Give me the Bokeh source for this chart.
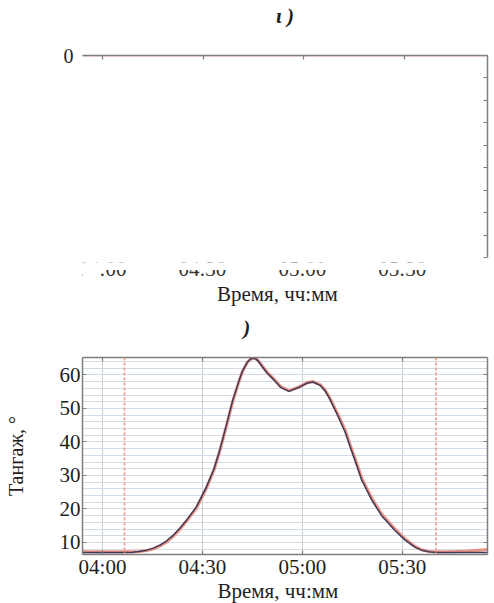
from bokeh.plotting import figure
from bokeh.layouts import column
from bokeh.models import (Range1d, LinearAxis, FixedTicker, Span, Title,
                          CustomLabelingPolicy)
from bokeh.core.properties import value
from bokeh.embed import file_html
from bokeh.resources import INLINE

SERIF = "Liberation Serif"

# ---------------- data ----------------
tick_times = [240, 270, 300, 330]                 # minutes after midnight
tick_labels = ["04:00", "04:30", "05:00", "05:30"]
pitch_ticks = [10, 20, 30, 40, 50, 60]
pitch_minor = [6, 8, 12, 14, 16, 18, 22, 24, 26, 28, 32, 34, 36, 38, 42, 44, 46, 48,
               52, 54, 56, 58, 62, 64]
top_ticks = [-90, -80, -70, -60, -50, -40, -30, -20, -10, 0]
event_times = [246.6, 340.1]

pitch_t = [234, 240, 246, 249, 251, 253.3, 255.3, 257.3, 259.3, 261.3, 263.3, 265.2,
           268.2, 271.2, 273.5, 275.2, 277.2, 279.1, 281.0, 282.1, 283.5, 284.4, 285.2,
           286.0, 286.8, 288.1, 289.5, 291.1, 293.5, 296.0, 299.0, 301.5, 303.2, 305.5,
           306.8, 308.0, 310.4, 312.9, 314.4, 316.0, 317.9, 320.9, 323.9, 327.9, 330.9,
           333.8, 335.8, 338.0, 340.0, 345.0, 350.0, 355.6]
pitch_meas = [7.0, 7.0, 7.0, 7.1, 7.3, 7.7, 8.3, 9.2, 10.5, 12.2, 14.3, 16.6,
              20.6, 26.5, 32.0, 37.5, 45.0, 52.4, 58.3, 61.3, 63.8, 64.7, 65.0,
              64.8, 64.1, 62.3, 60.5, 58.9, 56.3, 55.1, 56.3, 57.6, 57.9, 56.8,
              55.3, 53.3, 48.4, 42.9, 38.5, 34.0, 28.5, 22.6, 17.9, 13.5, 10.7,
              8.6, 7.7, 7.2, 7.0, 7.0, 7.0, 7.0]
pitch_model = [7.2, 7.2, 7.2, 7.2, 7.3, 7.6, 8.1, 9.0, 10.2, 11.9, 14.0, 16.3,
               20.3, 26.2, 31.7, 37.2, 44.7, 52.1, 58.1, 61.2, 63.8, 64.7, 65.0,
               64.9, 64.2, 62.5, 60.7, 59.1, 56.5, 55.3, 56.4, 57.7, 58.0, 57.0,
               55.5, 53.6, 48.8, 43.4, 39.0, 34.5, 29.0, 23.1, 18.3, 13.9, 11.0,
               8.8, 7.8, 7.3, 7.2, 7.2, 7.4, 7.9]

top_t = [234, 240, 270, 300, 330, 354.7]
top_meas = [0, 0, 0, 0, 0, 0]
top_model = [0, 0, 0, 0, 0, 0]

AX = "#7f7f7f"
RED = "#ec7a68"
DARK = "#3b3d5e"
TXT = "#1e1e1e"
W = 494
FS = "21px"


def base(**kw):
    return figure(toolbar_location=None, output_backend="svg", **kw)


def plain_axis(ax):
    ax.axis_line_color = AX
    ax.axis_line_width = 1.5
    ax.major_tick_line_color = AX
    ax.major_tick_line_width = 1.2
    ax.major_tick_in = 4
    ax.major_tick_out = 0
    ax.minor_tick_line_color = None


def no_labels(ax):
    ax.major_label_policy = CustomLabelingPolicy(code="return new Set()")
    ax.major_label_standoff = 0
    ax.major_label_text_font_size = "1px"


def serif_labels(ax, size=FS):
    ax.major_label_text_font = SERIF
    ax.major_label_text_font_size = size
    ax.major_label_text_color = TXT


# ---------------- strip with panel title (page y 0..40) ----------------
t = base(width=W, height=40, x_range=Range1d(0, W), y_range=Range1d(40, 0),
         x_axis_type=None, y_axis_type=None, min_border=0, outline_line_color=None)
t.text(x=[247], y=[15], text=["ι )"], text_align="center", text_baseline="middle",
       text_font=value(SERIF), text_font_size="21px", text_font_style="bold italic",
       text_color=TXT)

# ---------------- top panel (page y 40..262, frame 55..257) ----------------
a = base(width=W, height=222, x_range=Range1d(234.0, 354.7), y_range=Range1d(-90, 0),
         x_axis_location="above", y_axis_location="right",
         min_border_top=15, min_border_bottom=5, min_border_left=82, min_border_right=7,
         outline_line_color=None)
a.grid.visible = False
for ax in a.xaxis:
    ax.ticker = FixedTicker(ticks=tick_times)
    plain_axis(ax)
    no_labels(ax)
for ax in a.yaxis:
    ax.ticker = FixedTicker(ticks=top_ticks)
    plain_axis(ax)
    no_labels(ax)
left_a = LinearAxis(ticker=FixedTicker(ticks=[0]), axis_line_color=None,
                    major_tick_line_color=None, minor_tick_line_color=None,
                    major_label_standoff=3)
serif_labels(left_a, "20px")
a.add_layout(left_a, "left")
a.line(top_t, top_model, line_color=RED, line_width=2, line_alpha=0.45)
a.line(top_t, top_meas, line_color=DARK, line_width=1, line_alpha=0.6)

# ---------------- strip (page y 262..340): cut tick labels, x label, panel title ----
b = base(width=W, height=78, x_range=Range1d(234.0, 355.6), y_range=Range1d(340, 262),
         x_axis_type=None, y_axis_type=None, min_border_top=0, min_border_bottom=0,
         min_border_left=82, min_border_right=4, outline_line_color=None)
b.text(x=tick_times, y=[268] * len(tick_times), text=tick_labels, text_align="center",
       text_baseline="middle", text_font=value(SERIF), text_font_size=FS,
       text_color="#333333")
# the scan has erased the upper half of these labels and the left edge of the first one
b.quad(left=[234.0], right=[355.6], top=[262], bottom=[269.5], fill_color="white",
       line_color=None)
b.quad(left=[234.0], right=[239.4], top=[262], bottom=[282], fill_color="white",
       line_color=None)
b.text(x=[292.5], y=[293], text=["Время, чч:мм"], text_align="center",
       text_baseline="middle", text_font=value(SERIF), text_font_size=FS,
       text_color=TXT)
b.text(x=[283.3], y=[327], text=[")"], text_align="center", text_baseline="middle",
       text_font=value(SERIF), text_font_size="21px", text_font_style="bold italic",
       text_color=TXT)

# ---------------- bottom panel (page y 340..603, frame 357..554) ----------------
c = base(width=W, height=263, x_range=Range1d(234.0, 355.6), y_range=Range1d(6.4, 65.2),
         min_border_top=17, min_border_bottom=49, min_border_left=82, min_border_right=4,
         outline_line_color=None)
c.add_layout(LinearAxis(), "right")
c.add_layout(LinearAxis(), "above")

for ax in c.xaxis:
    ax.ticker = FixedTicker(ticks=tick_times)
    plain_axis(ax)
for ax in c.yaxis:
    ax.ticker = FixedTicker(ticks=pitch_ticks)
    plain_axis(ax)

bottom = c.below[0]
serif_labels(bottom)
bottom.major_label_standoff = 0
bottom.major_label_overrides = {tt: lab for tt, lab in zip(tick_times, tick_labels)}
no_labels(c.above[0])
no_labels(c.right[0])

left = c.left[0]
serif_labels(left)
left.major_label_standoff = 2
left.axis_label = "Тангаж, °"
left.axis_label_text_font = SERIF
left.axis_label_text_font_size = "20px"
left.axis_label_text_font_style = "normal"
left.axis_label_text_color = TXT
left.axis_label_text_line_height = 0.8
left.axis_label_standoff = 30

c.xgrid.ticker = FixedTicker(ticks=tick_times)
c.xgrid.grid_line_color = "#c9cdd2"
c.xgrid.grid_line_width = 1
c.ygrid.ticker = FixedTicker(ticks=pitch_ticks, minor_ticks=pitch_minor)
c.ygrid.grid_line_color = "#d3dbe5"
c.ygrid.minor_grid_line_color = "#d3dbe5"
c.ygrid.grid_line_width = 1

for et in event_times:
    c.add_layout(Span(location=et, dimension="height", line_color="#f3a193",
                      line_dash="3 2", line_width=1.8))

c.line(pitch_t, pitch_model, line_color=RED, line_width=3.2, line_alpha=0.8)
c.line(pitch_t, pitch_meas, line_color=DARK, line_width=1.5)

c.add_layout(Title(text="Время, чч:мм", align="left", offset=135, standoff=-10,
                   text_font=SERIF, text_font_size=FS, text_font_style="normal",
                   text_color=TXT), "below")

layout = column(t, a, b, c)
open("out.html", "w").write(file_html(layout, INLINE))
